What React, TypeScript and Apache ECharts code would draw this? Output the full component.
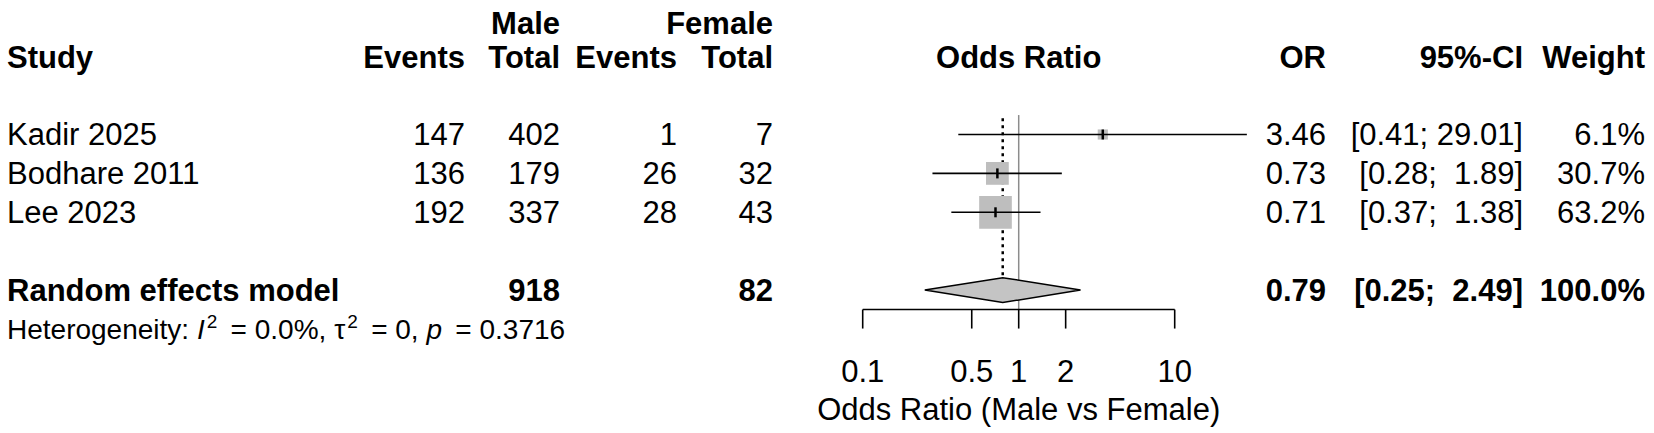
import React, { useEffect, useRef } from 'react';
import * as echarts from 'echarts';

// ---------- data ----------
const studies = ['Kadir 2025', 'Bodhare 2011', 'Lee 2023'];
const maleEvents = [147, 136, 192];
const maleTotal = [402, 179, 337];
const femaleEvents = [1, 26, 28];
const femaleTotal = [7, 32, 43];
const oddsRatio = [3.46, 0.73, 0.71];
const ciLower = [0.41, 0.28, 0.37];
const ciUpper = [29.01, 1.89, 1.38];
const weights = [6.1, 30.7, 63.2];

const pooledLabel = 'Random effects model';
const pooledOR = 0.79;
const pooledLower = 0.25;
const pooledUpper = 2.49;
const pooledWeight = 100.0;
const pooledMaleTotal = 918;
const pooledFemaleTotal = 82;

const hetI2 = '0.0%';
const hetTau2 = '0';
const hetP = '0.3716';

const tickValues = [0.1, 0.5, 1, 2, 10];
const tickLabels = ['0.1', '0.5', '1', '2', '10'];
const axisTitle = 'Odds Ratio (Male vs Female)';

// ---------- layout ----------
const FONT = '"Liberation Sans", Arial, Helvetica, sans-serif';
const FS = 31;
const HET_FS = 28;
const COL = { study: 7, mEv: 465, mTot: 560, fEv: 677, fTot: 773, or: 1326, ci: 1523, w: 1645 };
const POOLED_ROW = 4;
const HET_ROW = 5;
const AXIS_ROW = 4.5;

const txt = (text: string, x: number, y: number, align: string, bold = false, size = FS) => ({
  type: 'text',
  x,
  y,
  style: {
    text,
    fill: '#000',
    fontSize: size,
    fontFamily: FONT,
    fontWeight: bold ? 'bold' : 'normal',
    align,
    textAlign: align,
    verticalAlign: 'middle',
    textVerticalAlign: 'middle',
  },
});

const ciText = (l: number, u: number) =>
  `[${l.toFixed(2)}; ${u.toFixed(2).padStart(5, '\u00a0')}]`;

const EQ = '\u2009= ';

export default function App() {
  const ref = useRef<HTMLDivElement>(null);

  useEffect(() => {
    if (!ref.current) return;
    const chart = echarts.init(ref.current, undefined, { renderer: 'svg' });
    const maxW = Math.max(...weights);

    const option: any = {
      animation: false,
      backgroundColor: '#fff',
      grid: { left: 706.7, right: 323.3, top: 17.8, bottom: 26.2 },
      xAxis: { type: 'log', logBase: 10, min: 0.01, max: 100, show: false },
      yAxis: { type: 'value', inverse: true, min: -3, max: 7, show: false },
      graphic: [
        txt('Male', COL.mTot, 23.5, 'right', true),
        txt('Female', COL.fTot, 23.5, 'right', true),
        txt('Study', COL.study, 57.5, 'left', true),
        txt('Events', COL.mEv, 57.5, 'right', true),
        txt('Total', COL.mTot, 57.5, 'right', true),
        txt('Events', COL.fEv, 57.5, 'right', true),
        txt('Total', COL.fTot, 57.5, 'right', true),
        txt('Odds Ratio', 1018.7, 57.5, 'center', true),
        txt('OR', COL.or, 57.5, 'right', true),
        txt('95%-CI', COL.ci, 57.5, 'right', true),
        txt('Weight', COL.w, 57.5, 'right', true),
      ],
      series: [
        // reference line at OR = 1
        {
          type: 'custom',
          clip: false,
          data: [[1, -0.5, AXIS_ROW]],
          renderItem: (_p: any, api: any) => {
            const a = api.coord([api.value(0), api.value(1)]);
            const b = api.coord([api.value(0), api.value(2)]);
            return {
              type: 'line',
              shape: { x1: a[0], y1: a[1], x2: b[0], y2: b[1] },
              style: { stroke: '#8c8c8c', lineWidth: 1.5 },
            };
          },
        },
        // dotted line at pooled estimate
        {
          type: 'custom',
          clip: false,
          data: [[pooledOR, -0.42, POOLED_ROW - 0.32]],
          renderItem: (_p: any, api: any) => {
            const a = api.coord([api.value(0), api.value(1)]);
            const b = api.coord([api.value(0), api.value(2)]);
            return {
              type: 'line',
              shape: { x1: a[0], y1: a[1], x2: b[0], y2: b[1] },
              style: { stroke: '#000', lineWidth: 2.5, lineDash: [3, 4] },
            };
          },
        },
        // study squares + CIs
        {
          type: 'custom',
          clip: false,
          data: studies.map((_, i) => [oddsRatio[i], i, ciLower[i], ciUpper[i], weights[i]]),
          renderItem: (_p: any, api: any) => {
            const row = api.value(1);
            const c = api.coord([api.value(0), row]);
            const lo = api.coord([api.value(2), row]);
            const hi = api.coord([api.value(3), row]);
            const unit = api.size([0, 1])[1];
            const side = unit * 0.84 * Math.sqrt(api.value(4) / maxW);
            return {
              type: 'group',
              children: [
                {
                  type: 'rect',
                  shape: { x: c[0] - side / 2, y: c[1] - side / 2, width: side, height: side },
                  style: { fill: '#bebebe' },
                },
                {
                  type: 'line',
                  shape: { x1: lo[0], y1: c[1], x2: hi[0], y2: c[1] },
                  style: { stroke: '#000', lineWidth: 1.6 },
                },
                {
                  type: 'line',
                  shape: { x1: c[0], y1: c[1] - 5, x2: c[0], y2: c[1] + 5 },
                  style: { stroke: '#000', lineWidth: 2.5 },
                },
              ],
            };
          },
        },
        // pooled diamond
        {
          type: 'custom',
          clip: false,
          data: [[pooledOR, POOLED_ROW, pooledLower, pooledUpper]],
          renderItem: (_p: any, api: any) => {
            const row = api.value(1);
            const top = api.coord([api.value(0), row - 0.32]);
            const bot = api.coord([api.value(0), row + 0.32]);
            const lo = api.coord([api.value(2), row]);
            const hi = api.coord([api.value(3), row]);
            return {
              type: 'polygon',
              shape: { points: [lo, top, hi, bot] },
              style: { fill: '#c4c4c4', stroke: '#000', lineWidth: 1.5 },
            };
          },
        },
        // x axis line + title
        {
          type: 'custom',
          clip: false,
          data: [[tickValues[0], AXIS_ROW, tickValues[tickValues.length - 1]]],
          renderItem: (_p: any, api: any) => {
            const a = api.coord([api.value(0), api.value(1)]);
            const b = api.coord([api.value(2), api.value(1)]);
            return {
              type: 'group',
              children: [
                {
                  type: 'line',
                  shape: { x1: a[0], y1: a[1], x2: b[0], y2: b[1] },
                  style: { stroke: '#000', lineWidth: 1.6 },
                },
                txt(axisTitle, (a[0] + b[0]) / 2, a[1] + 100, 'center'),
              ],
            };
          },
        },
        // ticks + tick labels
        {
          type: 'custom',
          clip: false,
          data: tickValues.map((v) => [v, AXIS_ROW]),
          renderItem: (p: any, api: any) => {
            const c = api.coord([api.value(0), api.value(1)]);
            return {
              type: 'group',
              children: [
                {
                  type: 'line',
                  shape: { x1: c[0], y1: c[1], x2: c[0], y2: c[1] + 19 },
                  style: { stroke: '#000', lineWidth: 1.6 },
                },
                txt(tickLabels[p.dataIndex], c[0], c[1] + 62, 'center'),
              ],
            };
          },
        },
        // study table rows
        {
          type: 'custom',
          clip: false,
          data: studies.map((_, i) => [1, i]),
          renderItem: (p: any, api: any) => {
            const i = p.dataIndex;
            const y = api.coord([1, api.value(1)])[1];
            return {
              type: 'group',
              children: [
                txt(studies[i], COL.study, y, 'left'),
                txt(String(maleEvents[i]), COL.mEv, y, 'right'),
                txt(String(maleTotal[i]), COL.mTot, y, 'right'),
                txt(String(femaleEvents[i]), COL.fEv, y, 'right'),
                txt(String(femaleTotal[i]), COL.fTot, y, 'right'),
                txt(oddsRatio[i].toFixed(2), COL.or, y, 'right'),
                txt(ciText(ciLower[i], ciUpper[i]), COL.ci, y, 'right'),
                txt(`${weights[i].toFixed(1)}%`, COL.w, y, 'right'),
              ],
            };
          },
        },
        // pooled row + heterogeneity
        {
          type: 'custom',
          clip: false,
          data: [[1, POOLED_ROW, HET_ROW]],
          renderItem: (_p: any, api: any) => {
            const y = api.coord([1, api.value(1)])[1];
            const yh = api.coord([1, api.value(2)])[1];
            return {
              type: 'group',
              children: [
                txt(pooledLabel, COL.study, y, 'left', true),
                txt(String(pooledMaleTotal), COL.mTot, y, 'right', true),
                txt(String(pooledFemaleTotal), COL.fTot, y, 'right', true),
                txt(pooledOR.toFixed(2), COL.or, y, 'right', true),
                txt(ciText(pooledLower, pooledUpper), COL.ci, y, 'right', true),
                txt(`${pooledWeight.toFixed(1)}%`, COL.w, y, 'right', true),
                {
                  type: 'text',
                  x: COL.study,
                  y: yh,
                  style: {
                    text:
                      `{n|Heterogeneity: }{i|I}{s|2}{n| ${EQ}${hetI2}, τ}{s|2}{n| ${EQ}${hetTau2}, }` +
                      `{i|p}{n| ${EQ}${hetP}}`,
                    fill: '#000',
                    fontSize: HET_FS,
                    fontFamily: FONT,
                    align: 'left',
                    textAlign: 'left',
                    verticalAlign: 'middle',
                    textVerticalAlign: 'middle',
                    rich: {
                      n: { fontSize: HET_FS, fontFamily: FONT, fill: '#000', lineHeight: 34 },
                      i: { fontSize: HET_FS, fontFamily: FONT, fontStyle: 'italic', fill: '#000', lineHeight: 34 },
                      s: {
                        fontSize: 19,
                        fontFamily: FONT,
                        fill: '#000',
                        lineHeight: 19,
                        verticalAlign: 'top',
                        padding: [0, 0, 0, 2],
                      },
                    },
                  },
                },
              ],
            };
          },
        },
      ],
    };

    chart.setOption(option);
    return () => chart.dispose();
  }, []);

  return (
    <div
      ref={ref}
      style={{ position: 'absolute', left: 0, top: 0, width: 1654, height: 433, background: '#fff' }}
    />
  );
}
